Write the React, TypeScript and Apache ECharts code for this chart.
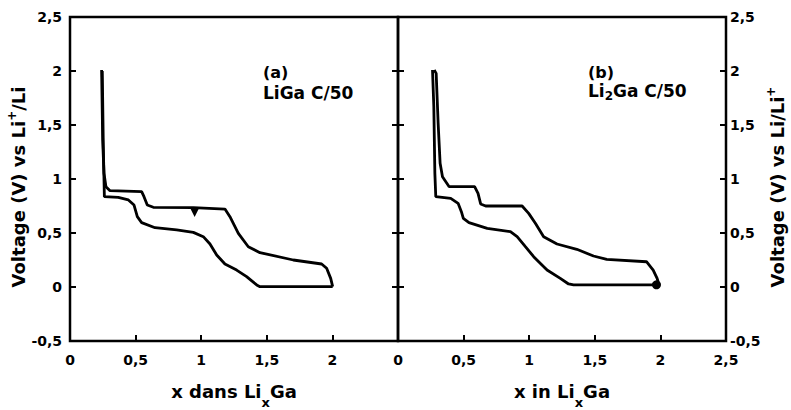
import React, { useEffect, useRef } from 'react';
import * as echarts from 'echarts';

// Panel (a) LiGa C/50
const aUpperX = [0.241, 0.249, 0.259, 0.274, 0.305, 0.546, 0.564, 0.589, 0.635, 0.94, 1.181, 1.219, 1.283, 1.359, 1.448, 1.702, 1.918, 1.956, 1.987, 2.002];
const aUpperV = [2.009, 1.361, 1.053, 0.929, 0.892, 0.883, 0.836, 0.759, 0.738, 0.735, 0.722, 0.651, 0.497, 0.373, 0.318, 0.25, 0.213, 0.173, 0.08, 0.003];
const aLowerX = [0.246, 0.254, 0.26, 0.262, 0.368, 0.445, 0.488, 0.513, 0.546, 0.648, 0.813, 0.94, 1.016, 1.067, 1.118, 1.181, 1.27, 1.346, 1.423, 1.448, 2.002];
const aLowerV = [2.0, 1.3, 0.95, 0.836, 0.83, 0.806, 0.759, 0.651, 0.596, 0.549, 0.528, 0.506, 0.466, 0.398, 0.296, 0.213, 0.157, 0.096, 0.019, 0.003, 0.003];
const aMarker = [[0.95, 0.69]];

// Panel (b) Li2Ga C/50
const bUpperX = [0.276, 0.291, 0.306, 0.321, 0.339, 0.39, 0.584, 0.61, 0.63, 0.668, 0.946, 0.996, 1.047, 1.11, 1.212, 1.363, 1.49, 1.591, 1.894, 1.945, 1.975, 1.99];
const bUpperV = [2.009, 1.978, 1.515, 1.145, 1.021, 0.929, 0.929, 0.867, 0.769, 0.75, 0.75, 0.682, 0.59, 0.466, 0.398, 0.349, 0.287, 0.256, 0.234, 0.157, 0.08, 0.019];
const bLowerX = [0.263, 0.273, 0.281, 0.288, 0.402, 0.458, 0.483, 0.498, 0.541, 0.68, 0.857, 0.908, 0.971, 1.034, 1.136, 1.237, 1.3, 1.338, 1.983];
const bLowerV = [2.009, 1.67, 1.052, 0.836, 0.821, 0.775, 0.697, 0.636, 0.596, 0.543, 0.512, 0.466, 0.373, 0.281, 0.157, 0.08, 0.028, 0.019, 0.019];
const bMarker = [[1.97, 0.02]];

const xTickStep = 0.5;
const xMin = 0;
const xMax = 2.5;
const yTickStep = 0.5;
const yMin = -0.5;
const yMax = 2.5;

const FONT = 'DejaVu Sans';
const zip = (xs: number[], ys: number[]) => xs.map((x, i) => [x, ys[i]]);
const fmt = (v: number) => String(v).replace('.', ',');

export default function App() {
  const ref = useRef<HTMLDivElement>(null);
  useEffect(() => {
    if (!ref.current) return;
    const chart = echarts.init(ref.current, null, { renderer: 'svg' });
    const label = { color: '#000', fontFamily: FONT, fontWeight: 'bold' as const, fontSize: 14 };
    const tick = { inside: true, length: 6, lineStyle: { color: '#000', width: 2 } };
    const nameStyle = (extra: any) => ({
      color: '#000', fontFamily: FONT, fontWeight: 'bold', fontSize: 18,
      rich: {
        sub: { color: '#000', fontFamily: FONT, fontWeight: 'bold', fontSize: 13, padding: [22, 0, 0, 0] },
        sup: { color: '#000', fontFamily: FONT, fontWeight: 'bold', fontSize: 12, padding: [0, 0, 13, 0] },
      },
      ...extra,
    });
    const xAxisBase = (gi: number, hideLast: boolean, name: string) => ({
      gridIndex: gi, type: 'value', min: xMin, max: xMax, interval: xTickStep,
      axisLine: { show: false, onZero: false }, axisTick: tick, splitLine: { show: false },
      axisLabel: { ...label, margin: 12, formatter: (v: number) => (hideLast && v === xMax ? '' : fmt(v)) },
      name, nameLocation: 'middle', nameGap: 33, nameTextStyle: nameStyle({}),
    });
    const yAxisBase = (gi: number, pos: string, showLabel: boolean) => ({
      gridIndex: gi, type: 'value', min: yMin, max: yMax, interval: yTickStep, position: pos,
      axisLine: { show: false, onZero: false }, axisTick: tick, splitLine: { show: false },
      axisLabel: { ...label, show: showLabel, margin: pos === 'left' ? 8 : 4, formatter: (v: number) => fmt(v) },
    });
    const lineSeries = (data: number[][], gi: number, yi: number) => ({
      type: 'line', xAxisIndex: gi, yAxisIndex: yi, data, showSymbol: false, symbol: 'none',
      lineStyle: { color: '#000', width: 2.8 }, silent: true,
    });
    chart.setOption({
      animation: false,
      backgroundColor: '#fff',
      grid: [
        { left: 70, top: 17, width: 328, height: 324, show: true, borderColor: '#000', borderWidth: 2.5, containLabel: false, outerBoundsMode: 'none' },
        { left: 398, top: 17, width: 328, height: 324, show: true, borderColor: '#000', borderWidth: 2.5, containLabel: false, outerBoundsMode: 'none' },
      ],
      xAxis: [
        xAxisBase(0, true, 'x dans Li{sub|x}Ga'),
        xAxisBase(1, false, 'x in Li{sub|x}Ga'),
      ],
      yAxis: [
        {
          ...yAxisBase(0, 'left', true),
          name: 'Voltage (V) vs Li{sup|+}/Li', nameLocation: 'middle', nameGap: 36, nameRotate: 90,
          nameTextStyle: nameStyle({ padding: [0, 16, 0, 0] }),
        },
        yAxisBase(0, 'right', false),
        yAxisBase(1, 'left', false),
        {
          ...yAxisBase(1, 'right', true),
          name: 'Voltage (V) vs Li/Li{sup|+}', nameLocation: 'middle', nameGap: 39, nameRotate: 90,
          nameTextStyle: nameStyle({ padding: [0, 16, 0, 0] }),
        },
      ],
      series: [
        lineSeries(zip(aUpperX, aUpperV), 0, 0),
        lineSeries(zip(aLowerX, aLowerV), 0, 0),
        { type: 'scatter', xAxisIndex: 0, yAxisIndex: 0, data: aMarker, symbol: 'triangle', symbolRotate: 180, symbolSize: 9, itemStyle: { color: '#000', opacity: 1 } },
        lineSeries(zip(bUpperX, bUpperV), 1, 3),
        lineSeries(zip(bLowerX, bLowerV), 1, 3),
        { type: 'scatter', xAxisIndex: 1, yAxisIndex: 3, data: bMarker, symbol: 'circle', symbolSize: 9, itemStyle: { color: '#000', opacity: 1 } },
      ],
      graphic: [
        { type: 'text', left: 263, top: 64, style: { text: '(a)', fill: '#000', font: `bold 16px "${FONT}"` } },
        { type: 'text', left: 263, top: 84, style: { text: 'LiGa C/50', fill: '#000', font: `bold 17px "${FONT}"` } },
        { type: 'text', left: 588, top: 64, style: { text: '(b)', fill: '#000', font: `bold 16px "${FONT}"` } },
        {
          type: 'text', left: 588, top: 82,
          style: {
            text: '{n|Li}{s|2}{n|Ga C/50}', fill: '#000',
            rich: {
              n: { fill: '#000', fontFamily: FONT, fontWeight: 'bold', fontSize: 17 },
              s: { fill: '#000', fontFamily: FONT, fontWeight: 'bold', fontSize: 12, padding: [10, 0, 0, 0] },
            },
          },
        },
      ],
    });
    return () => chart.dispose();
  }, []);
  return <div ref={ref} style={{ position: 'fixed', left: 0, top: 0, width: 791, height: 410, background: '#fff' }} />;
}
